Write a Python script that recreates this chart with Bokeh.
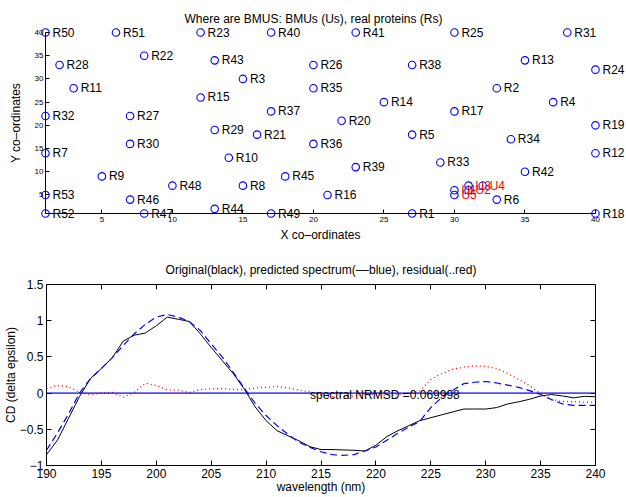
from bokeh.plotting import figure
from bokeh.models import Range1d, FixedTicker, LinearAxis, Span, Label, ColumnDataSource
from bokeh.core.properties import value
from bokeh.embed import file_html
from bokeh.resources import INLINE

FONT = "Liberation Sans"

# ---------------- top chart data: SOM map positions ----------------
protein_names = ["R1", "R2", "R3", "R4", "R5", "R6", "R7", "R8", "R9", "R10",
                 "R11", "R12", "R13", "R14", "R15", "R16", "R17", "R18", "R19", "R20",
                 "R21", "R22", "R23", "R24", "R25", "R26", "R27", "R28", "R29", "R30",
                 "R31", "R32", "R33", "R34", "R35", "R36", "R37", "R38", "R39", "R40",
                 "R41", "R42", "R43", "R44", "R45", "R46", "R47", "R48", "R49", "R50",
                 "R51", "R52", "R53"]
protein_x = [27, 33, 15, 37, 27, 33, 1, 15, 5, 14,
             3, 40, 35, 25, 12, 21, 30, 40, 40, 22,
             16, 8, 12, 40, 30, 20, 7, 2, 13, 7,
             38, 1, 29, 34, 20, 20, 17, 27, 23, 17,
             23, 35, 13, 13, 18, 7, 8, 10, 17, 1,
             6, 1, 1]
protein_y = [1, 28, 30, 25, 18, 4, 14, 7, 9, 13,
             28, 14, 34, 25, 26, 5, 23, 1, 20, 21,
             18, 35, 40, 32, 40, 33, 22, 33, 19, 16,
             40, 22, 12, 17, 28, 16, 23, 33, 11, 40,
             40, 10, 34, 2, 9, 4, 1, 7, 1, 40,
             40, 1, 5]

bmu_names = ["U1", "U2", "U3", "U4", "U5"]
bmu_x = [30, 31, 31, 32, 30]
bmu_y = [6, 6, 7, 7, 5]

map_ticks = [5, 10, 15, 20, 25, 30, 35, 40]
map_min, map_max = 1, 40

# ---------------- bottom chart data: CD spectra ----------------
wavelength = list(range(190, 241))
original = [-0.85, -0.65, -0.35, -0.05, 0.20, 0.34, 0.49, 0.72, 0.80, 0.83,
            0.93, 1.05, 1.02, 0.99, 0.82, 0.63, 0.45, 0.27, 0.06, -0.19,
            -0.38, -0.52, -0.59, -0.66, -0.74, -0.78, -0.78, -0.785, -0.79, -0.80,
            -0.72, -0.60, -0.52, -0.45, -0.38, -0.34, -0.30, -0.26, -0.22, -0.22,
            -0.22, -0.20, -0.15, -0.12, -0.085, -0.04, -0.02, -0.04, -0.065, -0.045,
            -0.05]
predicted = [-0.79, -0.55, -0.29, 0.0, 0.20, 0.34, 0.49, 0.66, 0.82, 0.95,
             1.05, 1.085, 1.05, 0.99, 0.865, 0.68, 0.50, 0.29, 0.07, -0.14,
             -0.31, -0.45, -0.57, -0.68, -0.75, -0.81, -0.85, -0.86, -0.85, -0.80,
             -0.745, -0.65, -0.555, -0.47, -0.39, -0.20, -0.06, 0.04, 0.13, 0.15,
             0.16, 0.14, 0.11, 0.08, 0.035, -0.02, -0.09, -0.15, -0.17, -0.17,
             -0.17]
residual = [0.06, 0.105, 0.09, 0.01, -0.02, 0.0, 0.01, -0.057, 0.01, 0.137,
            0.105, 0.046, 0.04, 0.01, 0.05, 0.06, 0.06, 0.05, 0.05, 0.07,
            0.08, 0.09, 0.07, 0.04, 0.02, -0.03, -0.05, -0.05, -0.04, -0.01,
            -0.02, -0.03, -0.02, 0.0, 0.03, 0.19, 0.27, 0.33, 0.36, 0.375,
            0.37, 0.34, 0.27, 0.19, 0.10, -0.01, -0.09, -0.115, -0.12, -0.125,
            -0.125]
nrmsd_text = "spectral NRMSD =0.069998"
nrmsd_x = 214
nrmsd_y = 0
wl_ticks = [190, 195, 200, 205, 210, 215, 220, 225, 230, 235, 240]
cd_ticks = [-1, -0.5, 0, 0.5, 1, 1.5]
cd_tick_labels = {-1: "\u22121", -0.5: "\u22120.5", 0: "0", 0.5: "0.5", 1: "1", 1.5: "1.5"}

# ================= top figure =================
top = figure(width=626, height=250, output_backend="svg", toolbar_location=None,
             x_range=Range1d(-2.19, 42.2), y_range=Range1d(-6.97, 41.08),
             min_border_left=0, min_border_right=0, min_border_bottom=0, min_border_top=27,
             title="Where are BMUS: BMUs (Us), real proteins (Rs)")
top.title.text_font = FONT
top.title.text_font_size = "12px"
top.title.text_font_style = "normal"
top.title.text_color = "black"
top.title.align = "center"
top.title.standoff = 4
top.outline_line_color = None
top.grid.visible = False

for ax in (top.xaxis[0], top.yaxis[0]):
    ax.fixed_location = map_min
    ax.bounds = (map_min, map_max)
    ax.ticker = FixedTicker(ticks=map_ticks)
    ax.minor_tick_line_color = None
    ax.major_tick_in = 4
    ax.major_tick_out = 0
    ax.axis_line_color = "black"
    ax.major_tick_line_color = "black"
    ax.major_label_text_font = FONT
    ax.major_label_text_font_size = "8px"
    ax.major_label_text_color = "black"
    ax.axis_label_text_font = FONT
    ax.axis_label_text_font_size = "12px"
    ax.axis_label_text_font_style = "normal"
    ax.axis_label_text_color = "black"
top.xaxis.axis_label = "X co\u2013ordinates"
top.yaxis.axis_label = "Y co\u2013ordinates"
top.xaxis.major_label_standoff = 3
top.xaxis.axis_label_standoff = 3
top.yaxis.major_label_standoff = 2
top.yaxis.axis_label_standoff = 9
top.yaxis.major_label_orientation = "horizontal"

prot_src = ColumnDataSource(dict(x=protein_x, y=protein_y, name=protein_names))
bmu_src = ColumnDataSource(dict(x=bmu_x, y=bmu_y, name=bmu_names))

top.scatter("x", "y", source=prot_src, marker="circle", size=7.5,
            fill_color=None, line_color="blue", line_width=1.1)
top.text("x", "y", text="name", source=prot_src, x_offset=7,
         text_font=value(FONT), text_font_size="12px", text_baseline="middle",
         text_align="left", text_color="black")
top.scatter("x", "y", source=bmu_src, marker="circle", size=7.5,
            fill_color=None, line_color="blue", line_width=1.1)
top.text("x", "y", text="name", source=bmu_src, x_offset=7,
         text_font=value(FONT), text_font_size="12px", text_baseline="middle",
         text_align="left", text_color="red")

# ================= bottom figure =================
bot = figure(width=626, height=247, output_backend="svg", toolbar_location=None,
             x_range=Range1d(wavelength[0], wavelength[-1]), y_range=Range1d(cd_ticks[0], cd_ticks[-1]),
             min_border_left=46, min_border_right=31, min_border_bottom=32, min_border_top=34,
             title="Original(black), predicted spectrum(\u2013\u2013blue), residual(..red)")
bot.title.text_font = FONT
bot.title.text_font_size = "12px"
bot.title.text_font_style = "normal"
bot.title.text_color = "black"
bot.title.align = "center"
bot.title.standoff = 16
bot.outline_line_color = "black"
bot.outline_line_width = 1
bot.grid.visible = False

bot.add_layout(LinearAxis(), "above")
bot.add_layout(LinearAxis(), "right")

for ax in bot.axis:
    ax.minor_tick_line_color = None
    ax.major_tick_in = 5
    ax.major_tick_out = 0
    ax.axis_line_color = None
    ax.major_tick_line_color = "black"
    ax.major_label_text_font = FONT
    ax.major_label_text_font_size = "12px"
    ax.major_label_text_color = "black"
    ax.axis_label_text_font = FONT
    ax.axis_label_text_font_size = "12px"
    ax.axis_label_text_font_style = "normal"
    ax.axis_label_text_color = "black"

for ax in (bot.above[0], bot.below[0]):
    ax.ticker = FixedTicker(ticks=wl_ticks)
for ax in (bot.left[0], bot.right[0]):
    ax.ticker = FixedTicker(ticks=cd_ticks)

# top/right axes only carry inward ticks; they take no border space
bot.above[0].fixed_location = cd_ticks[-1]
bot.right[0].fixed_location = wavelength[-1]
bot.above[0].major_label_text_color = None
bot.right[0].major_label_text_color = None

bot.below[0].axis_label = "wavelength (nm)"
bot.below[0].major_label_standoff = 3
bot.below[0].axis_label_standoff = -1
bot.left[0].axis_label = "CD (delta epsilon)"
bot.left[0].major_label_standoff = 3
bot.left[0].axis_label_standoff = -1
bot.left[0].major_label_overrides = cd_tick_labels
bot.left[0].major_label_orientation = "horizontal"

bot.add_layout(Span(location=0, dimension="width", line_color="blue",
                    line_width=1.8, line_alpha=0.7))
bot.line(wavelength, original, line_color="black", line_width=1)
bot.line(wavelength, predicted, line_color="blue", line_width=1.2, line_dash="7 4")
bot.line(wavelength, residual, line_color="red", line_width=1.3, line_dash="1 3")
bot.add_layout(Label(x=nrmsd_x, y=nrmsd_y, text=nrmsd_text, text_font=FONT,
                     text_font_size="12px", text_baseline="middle", text_color="black",
                     y_offset=-2))

open("out.html", "w").write(file_html([top, bot], INLINE))
